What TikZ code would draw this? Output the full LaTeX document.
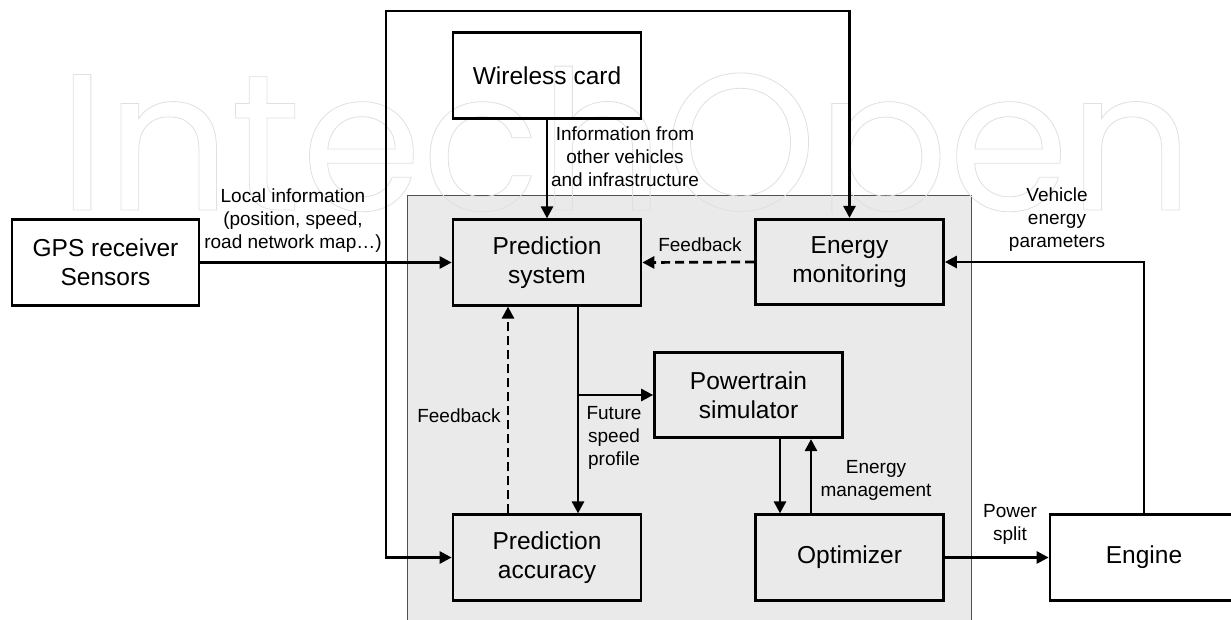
\documentclass[tikz,border=0pt]{standalone}
\usepackage{fontspec}
\setmainfont{Liberation Sans}
\newfontfamily\wmfont{Poppins}
\usepackage{graphicx}
\usetikzlibrary{arrows.meta}
\definecolor{sysgray}{HTML}{EAEAEA}
\definecolor{sysedge}{HTML}{505050}
\definecolor{wmcol}{HTML}{E0E0E0}
\begin{document}
\begin{tikzpicture}[x=1pt,y=-1pt,
  blk/.style={draw=black, line width=2.7pt, minimum width=188pt, minimum height=85.5pt,
              inner sep=0pt, align=center, font=\fontsize{24.5}{29}\selectfont},
  lbl/.style={align=center, inner sep=0pt, font=\fontsize{19}{23}\selectfont},
  tip/.tip={Triangle[length=12pt,width=12pt]},
  conn/.style={line width=2.7pt, -tip},
  fb/.style={conn, dash pattern=on 9pt off 5pt},
  loop/.style={line width=2.7pt, tip-tip},
]
\useasboundingbox (0,0) rectangle (1231,620);
\fill[white] (0,0) rectangle (1231,620);
% system area
\filldraw[fill=sysgray, draw=sysedge, line width=1pt] (407.5,196) rectangle (971,630);
% watermark
\begin{scope}
\clip (0,0) rectangle (1231,214);
\node[anchor=base west, inner sep=0pt, text=wmcol] (wm) at (58,210)
  {\resizebox{1135pt}{!}{\fontsize{220}{220}\wmfont\special{pdf:literal direct 1 Tr 0.9 w}IntechOpen\special{pdf:literal direct 0 Tr}}};
\end{scope}
% blocks
\node[blk, minimum width=187pt] (gps) at (105.5,262.5) {GPS receiver\\Sensors};
\node[blk] (wl)  at (547,75.5)  {Wireless card};
\node[blk] (ps)  at (547,262.5) {Prediction\\system};
\node[blk] (em)  at (849.5,262) {Energy\\monitoring};
\node[blk] (pt)  at (748.5,395) {Powertrain\\simulator};
\node[blk] (pa)  at (547,557.5) {Prediction\\accuracy};
\node[blk] (opt) at (849.5,557.5) {Optimizer};
\node[blk, fill=white] (eng) at (1144,557.5) {Engine};
% connectors
\coordinate (tl) at (386,11);
\coordinate (br) at (578,395);
\draw[conn] (gps.east) -- (ps.west);
\draw[conn] (wl.south) -- (ps.north);
\draw[fb] (em.west) -- (ps.east);
\draw[loop] (pa.west) -| (tl) -| (em.north);
\draw[conn] ([xshift=31pt]ps.south) -- ([xshift=31pt]pa.north);
\draw[fb] ([xshift=-39pt]pa.north) -- ([xshift=-39pt]ps.south);
\draw[conn] (br) -- (pt.west);
\draw[conn] ([xshift=31.5pt]pt.south) -- ([xshift=-69.5pt]opt.north);
\draw[conn] ([xshift=-38.5pt]opt.north) -- ([xshift=62.5pt]pt.south);
\draw[conn] (opt.east) -- (eng.west);
\draw[conn] (eng.north) |- (em.east);
% labels
\node[lbl] (lloc) at (293,221) {Local information\\(position, speed,\\road network map…)};
\node[lbl] (linfo) at (625,157) {Information from\\other vehicles\\and infrastructure};
\node[lbl] (lfb1) at (700,245) {Feedback};
\node[lbl] (lfb2) at (459,416) {Feedback};
\node[lbl] (lfut) at (614,438) {Future\\speed\\profile};
\node[lbl] (lem) at (876,480) {Energy\\management};
\node[lbl] (lveh) at (1057,220) {Vehicle\\energy\\parameters};
\node[lbl] (lpw) at (1010,524) {Power\\split};
\end{tikzpicture}
\end{document}
